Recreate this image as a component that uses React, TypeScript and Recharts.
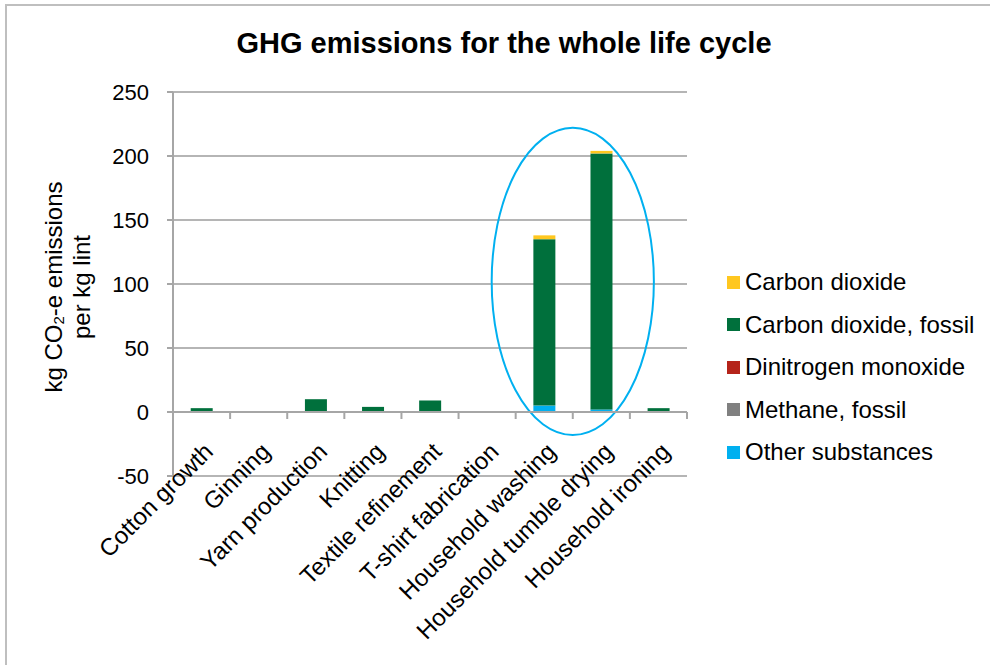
import { BarChart, Bar, XAxis, YAxis, CartesianGrid, Legend, ReferenceLine, ReferenceArea } from "recharts";

const categories = [
  "Cotton growth",
  "Ginning",
  "Yarn production",
  "Knitting",
  "Textile refinement",
  "T-shirt fabrication",
  "Household washing",
  "Household tumble drying",
  "Household ironing",
];

// kg CO2-e per kg lint
const carbonDioxide = [-0.8, 0, 0, 0, 0, 0, 3, 2, 0];
const carbonDioxideFossil = [3, 0, 10, 4, 9, 0, 130, 200, 3];
const dinitrogenMonoxide = [0, 0, 0, 0, 0, 0, 0, 0, 0];
const methaneFossil = [0, 0, 0, 0, 0, 0, 0, 0, 0];
const otherSubstances = [0, 0, 0, 0, 0, 0, 5, 2, 0];

const yTicks = [-50, 0, 50, 100, 150, 200, 250];

const data = categories.map((name, i) => ({
  name,
  other: otherSubstances[i],
  methane: methaneFossil[i],
  n2o: dinitrogenMonoxide[i],
  co2Fossil: carbonDioxideFossil[i],
  co2: carbonDioxide[i],
}));

// legend is listed top-down, the reverse of the stacking order
const series = [
  { key: "co2", name: "Carbon dioxide", color: "#ffc71f" },
  { key: "co2Fossil", name: "Carbon dioxide, fossil", color: "#00703c" },
  { key: "n2o", name: "Dinitrogen monoxide", color: "#b5241a" },
  { key: "methane", name: "Methane, fossil", color: "#808080" },
  { key: "other", name: "Other substances", color: "#00b0f0" },
];

const FONT = "'Liberation Sans', Arial, sans-serif";
const AXIS = "#a6a6a6";

function CategoryTick({ x, y, payload }: any) {
  return (
    <g transform={`translate(${x + 13},${y - 23})`}>
      <text textAnchor="end" transform="rotate(-45)" fontSize={24} fill="#000" fontFamily={FONT}>
        {payload.value}
      </text>
    </g>
  );
}

// Excel-style horizontal axis crossing at zero, with tick marks between categories
function ZeroAxis({ x1, x2, y1 }: any) {
  const band = (x2 - x1) / categories.length;
  return (
    <g>
      <line x1={x1} x2={x2} y1={y1} y2={y1} stroke={AXIS} strokeWidth={2} />
      {categories.map((c, i) => (
        <line key={c} x1={x1 + band * (i + 1)} x2={x1 + band * (i + 1)} y1={y1} y2={y1 + 7} stroke={AXIS} strokeWidth={2} />
      ))}
    </g>
  );
}

function Highlight({ x, y, width, height }: any) {
  return (
    <ellipse
      cx={x + width / 2}
      cy={y + height / 2}
      rx={width * 0.71}
      ry={height / 2}
      fill="none"
      stroke="#00b0f0"
      strokeWidth={2}
    />
  );
}

function YLabel({ viewBox }: any) {
  const cy = viewBox.y + viewBox.height / 2 + 3;
  const a = viewBox.x + 23;
  const b = viewBox.x + 51;
  return (
    <g fontFamily={FONT} fontSize={24} fill="#000">
      <text x={a} y={cy} textAnchor="middle" dominantBaseline="central" transform={`rotate(-90,${a},${cy})`}>
        kg CO
        <tspan fontSize={15} dy={5}>2</tspan>
        <tspan dy={-5}>-e emissions</tspan>
      </text>
      <text x={b} y={cy} textAnchor="middle" dominantBaseline="central" transform={`rotate(-90,${b},${cy})`}>
        per kg lint
      </text>
    </g>
  );
}

function LegendList() {
  return (
    <div style={{ fontFamily: FONT, fontSize: 24, color: "#000" }}>
      {series.map((s) => (
        <div key={s.key} style={{ display: "flex", alignItems: "center", height: 42.5, whiteSpace: "nowrap" }}>
          <span style={{ width: 13, height: 13, background: s.color, marginRight: 5 }} />
          {s.name}
        </div>
      ))}
    </div>
  );
}

export default function App() {
  return (
    <div
      style={{
        position: "absolute",
        left: 0,
        top: 0,
        width: 990,
        height: 665,
        overflow: "hidden",
        background: "#fff",
        fontFamily: FONT,
      }}
    >
      <div
        style={{
          position: "absolute",
          left: 5,
          top: 4,
          width: 1100,
          height: 800,
          borderLeft: "2px solid #bfbfbf",
          borderTop: "2px solid #bfbfbf",
        }}
      />
      <div
        style={{
          position: "absolute",
          left: 0,
          top: 29,
          width: 1008,
          textAlign: "center",
          fontSize: 29,
          lineHeight: "29px",
          fontWeight: "bold",
          color: "#000",
          whiteSpace: "nowrap",
        }}
      >
        GHG emissions for the whole life cycle
      </div>
      <div style={{ position: "absolute", left: 0, top: 0 }}>
        <BarChart
          width={990}
          height={665}
          data={data}
          stackOffset="sign"
          barCategoryGap="31%"
          margin={{ top: 92, right: 303, bottom: 159, left: 30 }}
        >
          <CartesianGrid vertical={false} stroke="#b5b5b5" strokeWidth={2} />
          <XAxis
            dataKey="name"
            interval={0}
            axisLine={false}
            tickLine={false}
            tickSize={0}
            tickMargin={0}
            height={30}
            tick={<CategoryTick />}
          />
          <YAxis
            width={143}
            domain={[-50, 250]}
            ticks={yTicks}
            interval={0}
            axisLine={{ stroke: AXIS, strokeWidth: 2 }}
            tickLine={{ stroke: AXIS, strokeWidth: 2 }}
            tickSize={6}
            tickMargin={18}
            tick={{ fill: "#000", fontSize: 22, fontFamily: FONT }}
            label={<YLabel />}
          />
          {[...series].reverse().map((s) => (
            <Bar key={s.key} dataKey={s.key} name={s.name} stackId="a" fill={s.color} isAnimationActive={false} />
          ))}
          <ReferenceLine y={0} shape={<ZeroAxis />} />
          <ReferenceArea
            x1="Household washing"
            x2="Household tumble drying"
            y1={-18}
            y2={222}
            ifOverflow="visible"
            shape={<Highlight />}
          />
          <Legend
            layout="vertical"
            align="center"
            verticalAlign="middle"
            content={<LegendList />}
            wrapperStyle={{ left: 727, top: 261, width: 262 }}
          />
        </BarChart>
      </div>
    </div>
  );
}
